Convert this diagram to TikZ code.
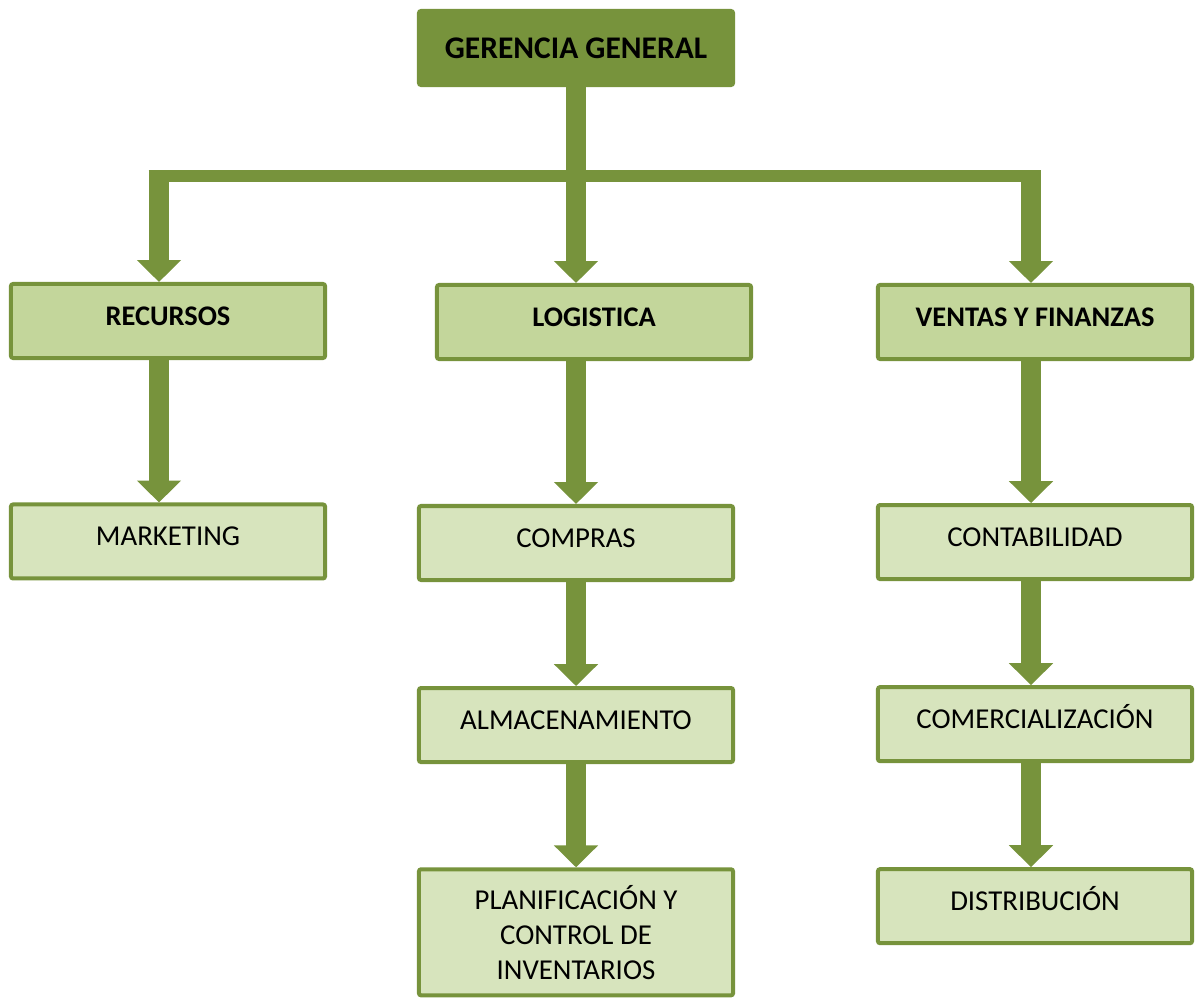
\documentclass[tikz,border=0pt]{standalone}
\usepackage{fontspec}
\setmainfont{Carlito}
\usetikzlibrary{positioning,arrows.meta}
\definecolor{oliva}{HTML}{77933C}
\definecolor{verdemedio}{HTML}{C3D69B}
\definecolor{verdeclaro}{HTML}{D7E4BD}
\begin{document}
\begin{tikzpicture}[
		x=0.025cm, y=-0.025cm,
		node distance=3.56cm and 0cm,
		caja/.style={draw=oliva,line width=2.85pt,rounded corners=1.5pt,minimum width=7.85cm,minimum height=1.85cm,align=center},
		jefe/.style={caja,fill=oliva,font=\bfseries\fontsize{22.4}{26}\selectfont},
		area/.style={caja,fill=verdemedio,font=\bfseries\fontsize{20.2}{24}\selectfont,text height=0.45cm,text depth=0.25cm},
		sub/.style={caja,fill=verdeclaro,font=\fontsize{20.5}{25}\selectfont,text height=0.45cm,text depth=0.25cm},
		subalto/.style={caja,fill=verdeclaro,font=\fontsize{20.5}{25}\selectfont,minimum height=3.15cm},
		flecha/.style={draw=oliva,line width=14.8pt,-{Triangle[width=30.6pt,length=15.6pt]}},
		barra/.style={draw=oliva,line width=8.5pt}
		]
		\useasboundingbox (0,0) rectangle (1196,1000);
		\node[jefe] (gg) at (576,48) {GERENCIA GENERAL};
		\node[area] (recursos) at (168,321) {RECURSOS};
		\node[area] (logistica) at (594,322) {LOGISTICA};
		\node[area] (ventas) at (1035,322) {VENTAS Y FINANZAS};
		\node[sub,below=of recursos] (marketing) {MARKETING};
		\node[sub] (compras) at (576,543) {COMPRAS};
		\node[sub,below=2.6cm of compras] (almacen) {ALMACENAMIENTO};
		\node[subalto,below=2.58cm of almacen] (planif) {PLANIFICACIÓN Y\\CONTROL DE\\INVENTARIOS};
		\node[sub,below=3.55cm of ventas] (contab) {CONTABILIDAD};
		\node[sub,below=2.6cm of contab] (comerc) {COMERCIALIZACIÓN};
		\node[sub,below=2.6cm of comerc] (distrib) {DISTRIBUCIÓN};
		\coordinate (cruce) at (576,176);
		\coordinate (izq) at ([xshift=-0.225cm]recursos.north |- cruce);
		\coordinate (der) at ([xshift=-0.1cm]ventas.north |- cruce);
		\draw[barra] ([xshift=-0.26cm]izq) -- ([xshift=0.26cm]der);
		\draw[flecha] (gg.south) -- (gg.south |- logistica.north);
		\draw[flecha] (izq) -- ([xshift=-0.225cm]recursos.north);
		\draw[flecha] (der) -- ([xshift=-0.1cm]ventas.north);
		\draw[flecha] ([xshift=-0.225cm]recursos.south) -- ([xshift=-0.225cm]marketing.north);
		\draw[flecha] (logistica.south -| compras.north) -- (compras.north);
		\draw[flecha] (compras) -- (almacen);
		\draw[flecha] (almacen) -- (planif);
		\draw[flecha] ([xshift=-0.1cm]ventas.south) -- ([xshift=-0.1cm]contab.north);
		\draw[flecha] ([xshift=-0.1cm]contab.south) -- ([xshift=-0.1cm]comerc.north);
		\draw[flecha] ([xshift=-0.1cm]comerc.south) -- ([xshift=-0.1cm]distrib.north);
	\end{tikzpicture}
\end{document}
